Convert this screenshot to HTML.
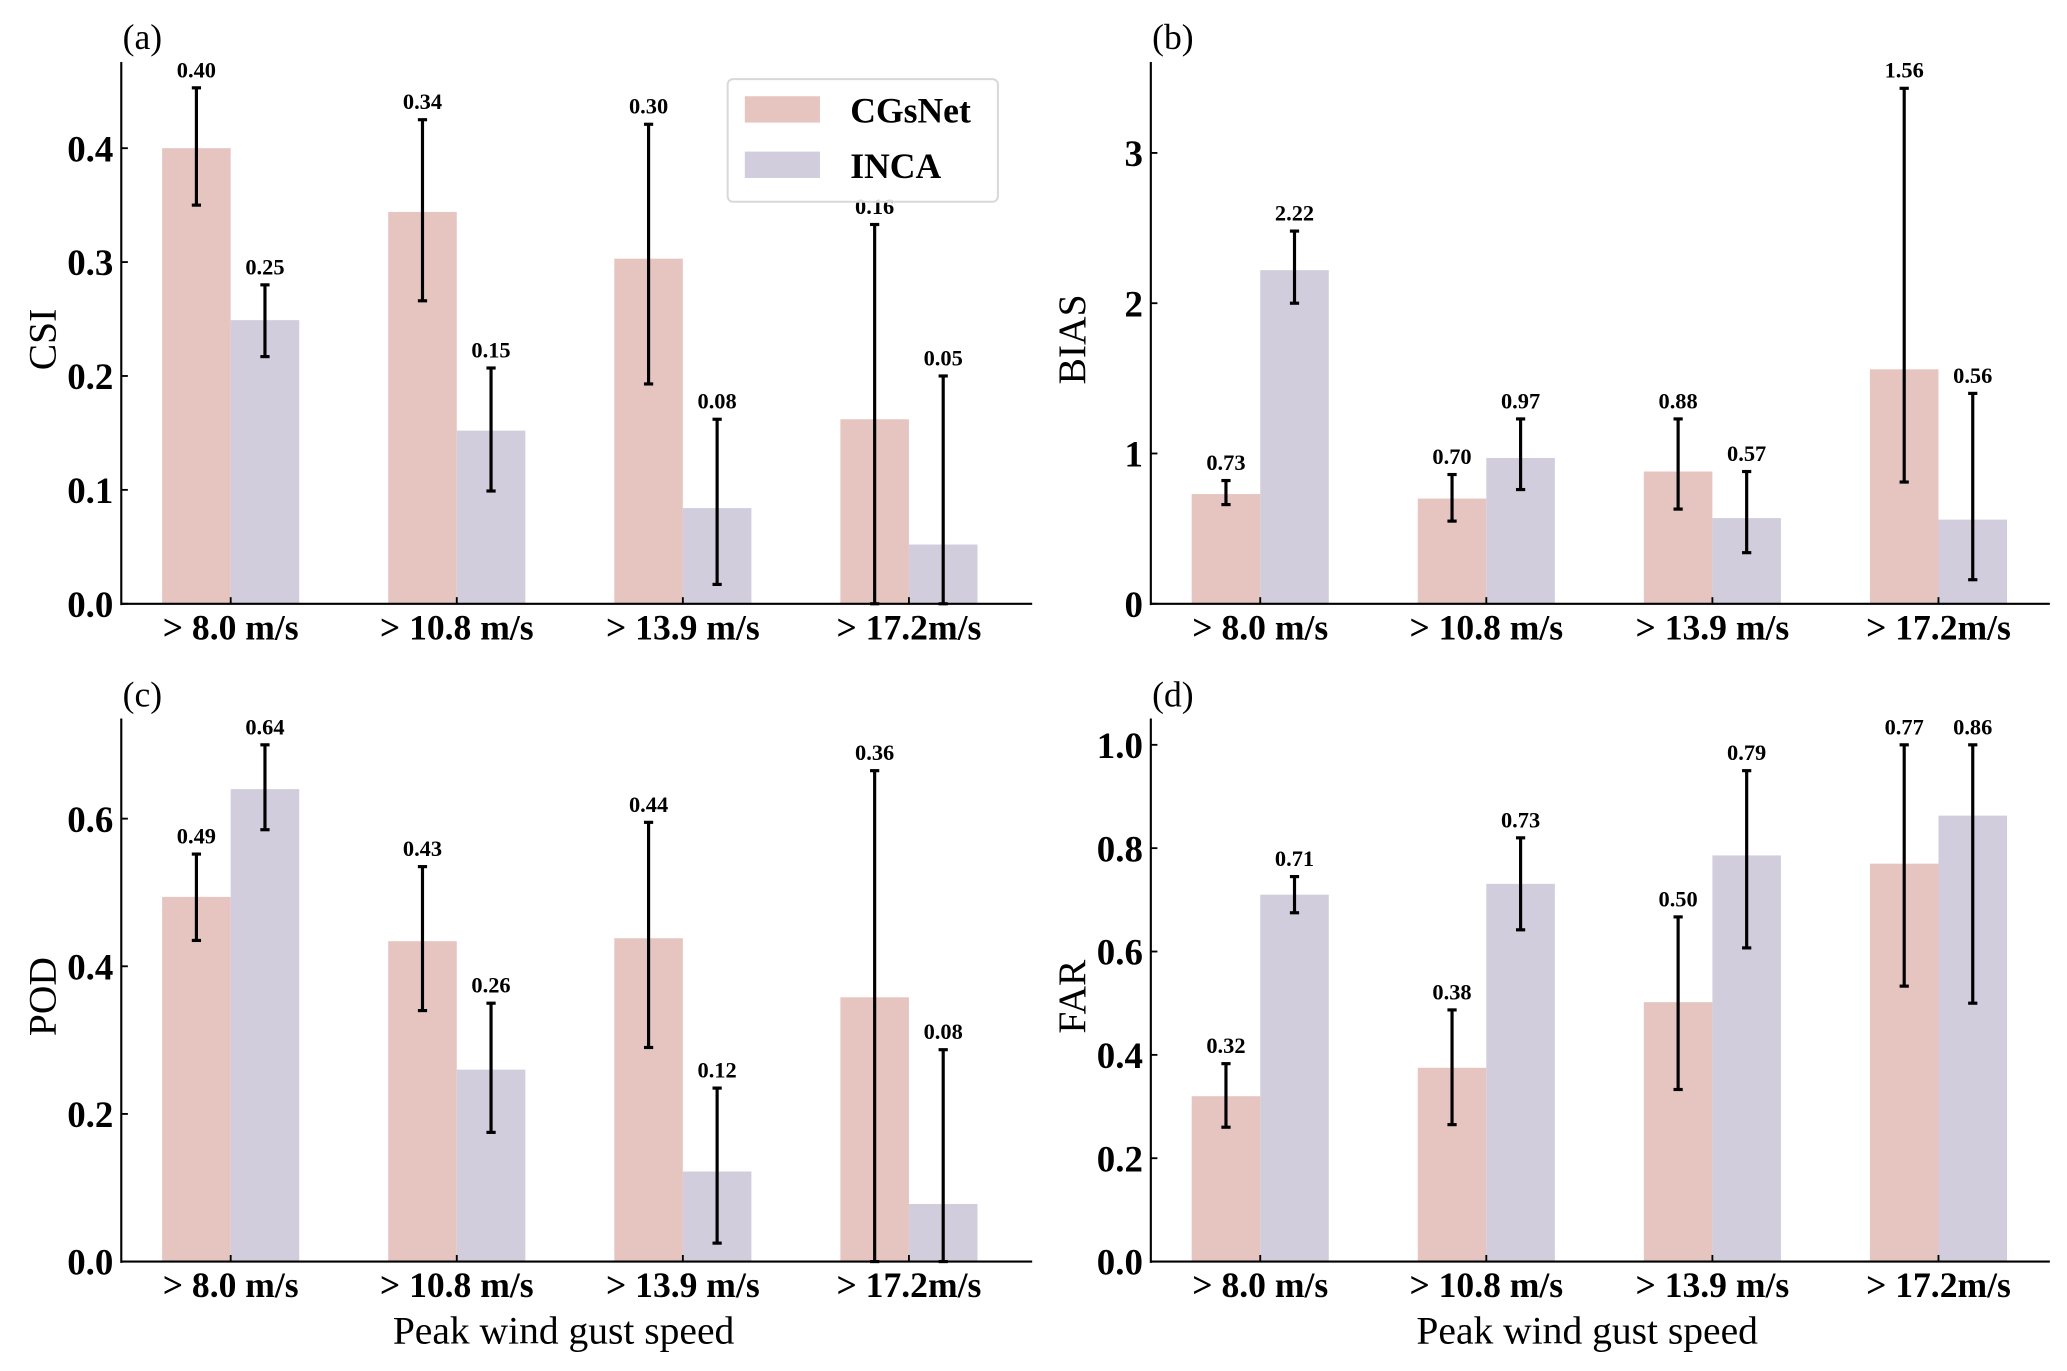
<!DOCTYPE html>
<html><head><meta charset="utf-8"><style>
html,body{margin:0;padding:0;background:#fff;}
svg{display:block;font-family:"Liberation Serif",serif;}
</style></head><body>
<svg id="fig" width="2067" height="1371" viewBox="0 0 1568 1040" xmlns="http://www.w3.org/2000/svg"></svg>
<script>
const categories = ["> 8.0 m/s", "> 10.8 m/s", "> 13.9 m/s", "> 17.2m/s"];
const seriesNames = ["CGsNet", "INCA"];
// CSI
const csiCG = [0.40, 0.344, 0.303, 0.162];
const csiCGLo = [0.35, 0.266, 0.193, 0.0];
const csiCGHi = [0.453, 0.425, 0.421, 0.333];
const csiIN = [0.249, 0.152, 0.084, 0.052];
const csiINLo = [0.217, 0.099, 0.017, 0.0];
const csiINHi = [0.28, 0.207, 0.162, 0.2];
const csiCGLbl = ["0.40", "0.34", "0.30", "0.16"];
const csiINLbl = ["0.25", "0.15", "0.08", "0.05"];
const csiTicks = ["0.0", "0.1", "0.2", "0.3", "0.4"];
// BIAS
const biasCG = [0.73, 0.70, 0.88, 1.56];
const biasCGLo = [0.66, 0.55, 0.63, 0.81];
const biasCGHi = [0.82, 0.86, 1.23, 3.43];
const biasIN = [2.22, 0.97, 0.57, 0.56];
const biasINLo = [2.0, 0.76, 0.34, 0.16];
const biasINHi = [2.48, 1.23, 0.88, 1.40];
const biasCGLbl = ["0.73", "0.70", "0.88", "1.56"];
const biasINLbl = ["2.22", "0.97", "0.57", "0.56"];
const biasTicks = ["0", "1", "2", "3"];
// POD
const podCG = [0.494, 0.434, 0.438, 0.358];
const podCGLo = [0.435, 0.34, 0.29, 0.0];
const podCGHi = [0.552, 0.535, 0.595, 0.665];
const podIN = [0.64, 0.26, 0.122, 0.078];
const podINLo = [0.585, 0.175, 0.025, 0.0];
const podINHi = [0.70, 0.35, 0.235, 0.287];
const podCGLbl = ["0.49", "0.43", "0.44", "0.36"];
const podINLbl = ["0.64", "0.26", "0.12", "0.08"];
const podTicks = ["0.0", "0.2", "0.4", "0.6"];
// FAR
const farCG = [0.32, 0.375, 0.502, 0.77];
const farCGLo = [0.26, 0.265, 0.333, 0.533];
const farCGHi = [0.383, 0.487, 0.667, 1.0];
const farIN = [0.71, 0.731, 0.786, 0.863];
const farINLo = [0.675, 0.642, 0.607, 0.5];
const farINHi = [0.745, 0.82, 0.95, 1.0];
const farCGLbl = ["0.32", "0.38", "0.50", "0.77"];
const farINLbl = ["0.71", "0.73", "0.79", "0.86"];
const farTicks = ["0.0", "0.2", "0.4", "0.6", "0.8", "1.0"];

const NS = "http://www.w3.org/2000/svg";
const svg = document.getElementById("fig");
function mk(tag, attrs, parent, text) {
  const e = document.createElementNS(NS, tag);
  for (const k in attrs) e.setAttribute(k, attrs[k]);
  if (text !== undefined) e.textContent = text;
  (parent || svg).appendChild(e);
  return e;
}
const PINK = "#e6c5c0", LAV = "#d1cddd";

function panel(o) {
  const g = mk("g", {});
  
  
  const x0 = o.x0, x1 = o.x1, base = o.base, top = o.top;
  const y = v => base - (v / o.ymax) * (base - top);
  const cx = i => x0 + 83 + i * 171.5;
  const bw = 52;
  for (let i = 0; i < categories.length; i++) {
    const r1 = mk("rect", {x: cx(i) - bw, y: y(o.cg[i]), width: bw, height: base - y(o.cg[i]), fill: PINK}, g);
    
    
    const r2 = mk("rect", {x: cx(i), y: y(o.inca[i]), width: bw, height: base - y(o.inca[i]), fill: LAV}, g);
    
    
  }
  for (let i = 0; i < categories.length; i++) {
    [[cx(i) - bw / 2, o.cgLo[i], o.cgHi[i], o.cgL[i], 'cgsnet'], [cx(i) + bw / 2, o.inLo[i], o.inHi[i], o.inL[i], 'inca']].forEach(d => {
      const eg = mk("g", {stroke: "#000", "stroke-width": 2.4}, g);
      
      
      mk("line", {x1: d[0], x2: d[0], y1: y(d[1]), y2: y(d[2])}, eg);
      mk("line", {x1: d[0] - 3.5, x2: d[0] + 3.5, y1: y(d[1]), y2: y(d[1])}, eg);
      mk("line", {x1: d[0] - 3.5, x2: d[0] + 3.5, y1: y(d[2]), y2: y(d[2])}, eg);
      const t = mk("text", {x: d[0], y: y(d[2]) - 8, "text-anchor": "middle", "font-size": 17, "font-weight": "bold"}, g, d[3]);
      
      
    });
  }
  const ax = mk("line", {x1: x0, x2: x0, y1: top, y2: base + 1, stroke: "#000", "stroke-width": 1.6}, g);
  
  
  const bx = mk("line", {x1: x0, x2: x1, y1: base, y2: base, stroke: "#000", "stroke-width": 1.6}, g);
  
  
  o.ticks.forEach(tk => {
    const v = parseFloat(tk);
    mk("line", {x1: x0, x2: x0 + 5, y1: y(v), y2: y(v), stroke: "#000", "stroke-width": 1.4}, g);
    const t = mk("text", {x: x0 - 6, y: y(v) + 10, "text-anchor": "end", "font-size": 28, "font-weight": "bold"}, g, tk);
    
    
  });
  categories.forEach((c, i) => {
    mk("line", {x1: cx(i), x2: cx(i), y1: base, y2: base - 5, stroke: "#000", "stroke-width": 1.4}, g);
    const t = mk("text", {x: cx(i), y: base + 27, "text-anchor": "middle", "font-size": 27, "font-weight": "bold"}, g, c);
    
    
  });
  const yt = mk("text", {x: 0, y: 0, transform: `translate(${x0 - 50},${(top + base) / 2 + 5}) rotate(-90)`, "text-anchor": "middle", "font-size": 30}, g, o.ytitle);
  
  
  const pl = mk("text", {x: x0 + 1, y: o.labelY, "font-size": 27}, g, o.label);
  
  
  if (o.xtitle) {
    const xt = mk("text", {x: (x0 + x1) / 2 - 10, y: base + 62, "text-anchor": "middle", "font-size": 30}, g, o.xtitle);
    
    
  }
}

panel({name: "panel-csi", x0: 92, x1: 783, base: 458, top: 47, ymax: (458 - 47) / 864, cg: csiCG, cgLo: csiCGLo, cgHi: csiCGHi, inca: csiIN, inLo: csiINLo, inHi: csiINHi, cgL: csiCGLbl, inL: csiINLbl, ticks: csiTicks, ytitle: "CSI", label: "(a)", labelY: 37});
panel({name: "panel-bias", x0: 873, x1: 1555, base: 458, top: 47, ymax: (458 - 47) / 114, cg: biasCG, cgLo: biasCGLo, cgHi: biasCGHi, inca: biasIN, inLo: biasINLo, inHi: biasINHi, cgL: biasCGLbl, inL: biasINLbl, ticks: biasTicks, ytitle: "BIAS", label: "(b)", labelY: 37});
panel({name: "panel-pod", x0: 92, x1: 783, base: 957, top: 545, ymax: (957 - 545) / 560, cg: podCG, cgLo: podCGLo, cgHi: podCGHi, inca: podIN, inLo: podINLo, inHi: podINHi, cgL: podCGLbl, inL: podINLbl, ticks: podTicks, ytitle: "POD", label: "(c)", labelY: 536, xtitle: "Peak wind gust speed"});
panel({name: "panel-far", x0: 873, x1: 1555, base: 957, top: 545, ymax: (957 - 545) / 392, cg: farCG, cgLo: farCGLo, cgHi: farCGHi, inca: farIN, inLo: farINLo, inHi: farINHi, cgL: farCGLbl, inL: farINLbl, ticks: farTicks, ytitle: "FAR", label: "(d)", labelY: 536, xtitle: "Peak wind gust speed"});

const lg = mk("g", {});


mk("rect", {x: 552, y: 60, width: 205, height: 93, rx: 4, fill: "#fff", "fill-opacity": 0.85, stroke: "#d8d8d8", "stroke-width": 1.5}, lg);
[[PINK, seriesNames[0], 73], [LAV, seriesNames[1], 115]].forEach((d, i) => {
  const e = mk("g", {}, lg);
  
  
  mk("rect", {x: 565, y: d[2], width: 57, height: 20, fill: d[0]}, e);
  mk("text", {x: 645, y: d[2] + 20, "font-size": 27, "font-weight": "bold"}, e, d[1]);
});
</script>
</body></html>
